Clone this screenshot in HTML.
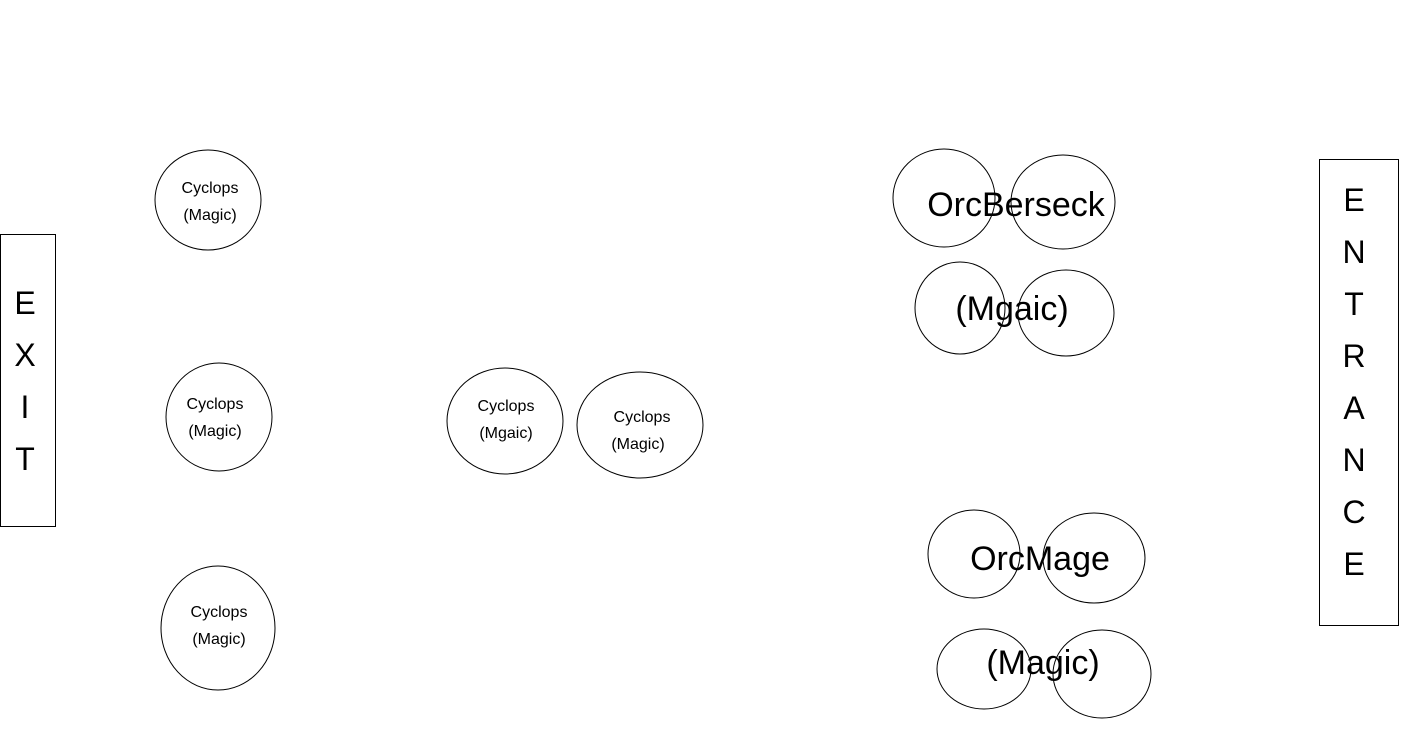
<!DOCTYPE html>
<html><head><meta charset="utf-8"><style>
html,body{margin:0;padding:0;background:#fff;}
svg{display:block;}
text{font-family:"Liberation Sans","Noto Sans CJK SC",sans-serif;fill:#000;}
</style></head><body>
<svg width="1405" height="745" viewBox="0 0 1405 745">
<g fill="none" stroke="#000" stroke-width="1">
<ellipse cx="208" cy="200" rx="53" ry="50"/>
<ellipse cx="219" cy="417" rx="53" ry="54"/>
<ellipse cx="218" cy="628" rx="57" ry="62"/>
<ellipse cx="505" cy="421" rx="58" ry="53"/>
<ellipse cx="640" cy="425" rx="63" ry="53"/>
<ellipse cx="944" cy="198" rx="51" ry="49"/>
<ellipse cx="1063" cy="202" rx="52" ry="47"/>
<ellipse cx="960" cy="308" rx="45" ry="46"/>
<ellipse cx="1066" cy="313" rx="48" ry="43"/>
<ellipse cx="974" cy="554" rx="46" ry="44"/>
<ellipse cx="1094" cy="558" rx="51" ry="45"/>
<ellipse cx="984" cy="669" rx="47" ry="40"/>
<ellipse cx="1102" cy="674" rx="49" ry="44"/>
<rect x="0.5" y="234.5" width="55" height="292"/>
<rect x="1319.5" y="159.5" width="79" height="466"/>
</g>
<g font-size="16" text-anchor="middle">
<text x="210" y="193">Cyclops</text><text x="210" y="220">(Magic)</text>
<text x="215" y="409">Cyclops</text><text x="215" y="436">(Magic)</text>
<text x="219" y="617">Cyclops</text><text x="219" y="644">(Magic)</text>
<text x="506" y="411">Cyclops</text><text x="506" y="438">(Mgaic)</text>
<text x="642" y="422">Cyclops</text><text x="638" y="449">(Magic)</text>
</g>
<g font-size="34" text-anchor="middle">
<text x="1016" y="216">OrcBerseck</text>
<text x="1012" y="320">(Mgaic)</text>
<text x="1040" y="570">OrcMage</text>
<text x="1043" y="674">(Magic)</text>
</g>
<g font-size="32" text-anchor="middle">
<text x="25" y="314">E</text><text x="25" y="366">X</text><text x="25" y="418">I</text><text x="25" y="470">T</text>
<text x="1354" y="211">E</text><text x="1354" y="263">N</text><text x="1354" y="315">T</text><text x="1354" y="367">R</text><text x="1354" y="419">A</text><text x="1354" y="471">N</text><text x="1354" y="523">C</text><text x="1354" y="575">E</text>
</g>
</svg>
</body></html>
